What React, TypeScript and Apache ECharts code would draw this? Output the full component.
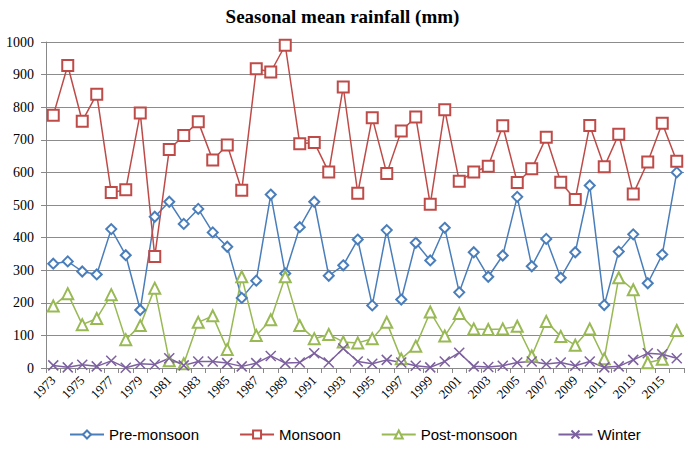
import React, { useEffect, useRef } from "react";
import * as echarts from "echarts";

const years: string[] = [];
for (let y = 1973; y <= 2016; y++) years.push(String(y));

const preMonsoon = [320, 327, 296, 287, 426, 346, 178, 464, 510, 442, 488, 416, 372, 215, 268, 532, 290, 432, 510, 283, 315, 394, 192, 423, 210, 384, 330, 430, 232, 355, 280, 345, 525, 312, 396, 277, 355, 560, 193, 357, 410, 260, 348, 600];
const monsoon = [775, 928, 757, 840, 538, 547, 782, 342, 670, 713, 755, 638, 684, 545, 918, 908, 990, 688, 692, 601, 862, 536, 768, 597, 727, 770, 502, 792, 573, 601, 619, 743, 569, 611, 708, 570, 517, 744, 617, 717, 534, 632, 751, 634];
const postMonsoon = [190, 228, 133, 152, 225, 87, 130, 245, 22, 13, 140, 160, 57, 280, 100, 148, 280, 130, 90, 103, 80, 77, 90, 140, 28, 67, 172, 98, 167, 120, 118, 120, 128, 37, 143, 97, 70, 120, 28, 277, 240, 16, 27, 115];
const winter = [8, 2, 10, 5, 22, 1, 13, 11, 30, 8, 20, 20, 15, 5, 15, 37, 15, 17, 45, 17, 60, 20, 13, 25, 17, 7, 2, 20, 47, 5, 3, 7, 17, 20, 12, 17, 7, 20, 2, 5, 25, 45, 42, 30];

const yTicks = { min: 0, max: 1000, interval: 100 };

export default function App() {
  const ref = useRef<HTMLDivElement>(null);
  useEffect(() => {
    if (!ref.current) return;
    const chart = echarts.init(ref.current, undefined, { renderer: "svg" });
    const mk = (name: string, data: number[], color: string, symbol: string, size: number) => ({
      name,
      type: "line",
      data,
      symbol,
      symbolSize: size,
      showSymbol: true,
      showAllSymbol: true,
      lineStyle: { color, width: 1.5 },
      itemStyle: { color, borderColor: color, borderWidth: 1.5 },
    });
    chart.setOption({
      animation: false,
      backgroundColor: "#fff",
      title: {
        text: "Seasonal mean rainfall (mm)",
        left: "center",
        top: 2,
        textStyle: { fontFamily: "Liberation Serif", fontWeight: "bold", fontSize: 19, color: "#000" },
      },
      legend: {
        top: 422,
        left: 64,
        itemGap: 40,
        itemWidth: 34,
        itemHeight: 10,
        textStyle: { fontFamily: "Liberation Sans", fontSize: 15, color: "#000" },
        data: ["Pre-monsoon", "Monsoon", "Post-monsoon", "Winter"],
      },
      grid: { left: 46, right: 1, top: 42, bottom: 98, containLabel: false },
      xAxis: {
        type: "category",
        data: years,
        boundaryGap: true,
        axisLine: { lineStyle: { color: "#888", width: 1 } },
        axisTick: { show: true, interval: 0, length: 5, lineStyle: { color: "#888" } },
        axisLabel: {
          interval: 1,
          rotate: 45,
          margin: 10,
          fontFamily: "Liberation Serif",
          fontSize: 13,
          color: "#000",
        },
      },
      yAxis: {
        type: "value",
        min: yTicks.min,
        max: yTicks.max,
        interval: yTicks.interval,
        axisLine: { show: true, lineStyle: { color: "#888", width: 1 } },
        axisTick: { show: true, length: 5, lineStyle: { color: "#888" } },
        axisLabel: {
          fontFamily: "Liberation Serif",
          fontSize: 14,
          color: "#000",
          margin: 12,
          formatter: (v: number) => String(v),
        },
        splitLine: { lineStyle: { color: "#8c8c8c", width: 1 } },
      },
      series: [
        mk("Pre-monsoon", preMonsoon, "#4A7EBB", "emptyDiamond", 10),
        mk("Monsoon", monsoon, "#BE4B48", "emptyRect", 11),
        mk("Post-monsoon", postMonsoon, "#98B954", "emptyTriangle", 11),
        {
          ...mk("Winter", winter, "#7D60A0", "path://M0,0L10,10M10,0L0,10", 10),
          itemStyle: { color: "none", borderColor: "#7D60A0", borderWidth: 1.5 },
        },
      ],
    });
    return () => chart.dispose();
  }, []);
  return <div ref={ref} style={{ width: 685, height: 466, position: "absolute", left: 0, top: 0 }} />;
}
